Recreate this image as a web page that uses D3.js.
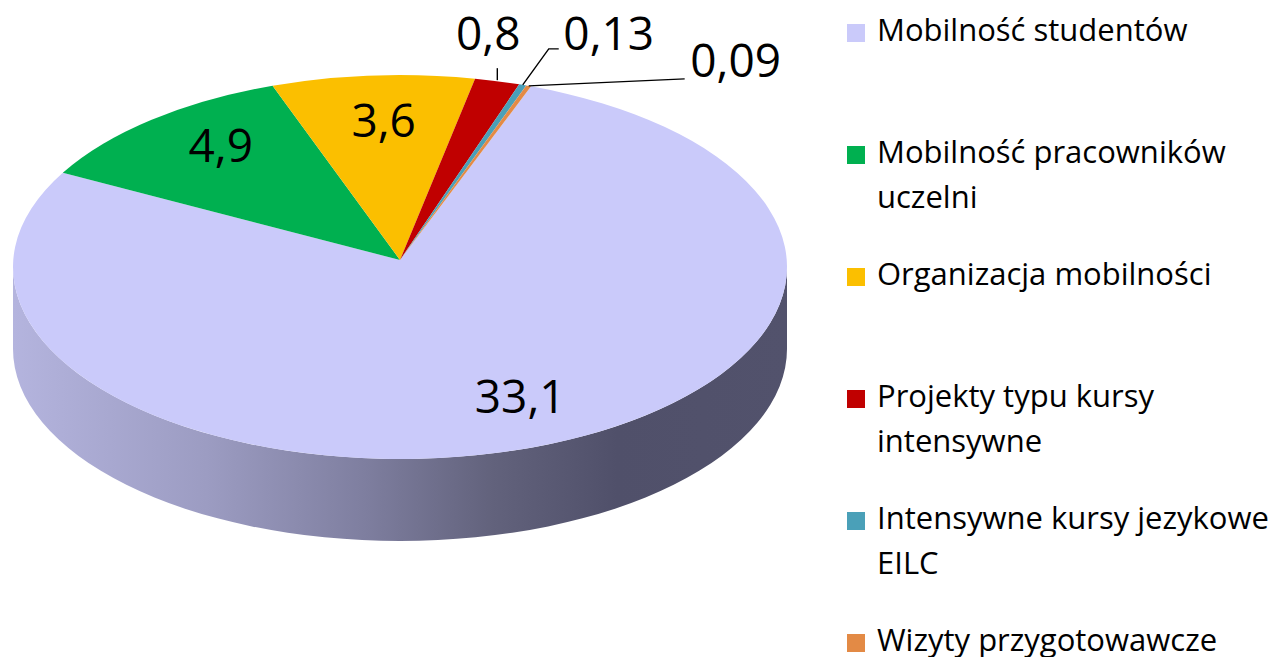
<!DOCTYPE html>
<html>
<head>
<meta charset="utf-8">
<script src="https://cdn.jsdelivr.net/npm/d3@7"></script>
<style>
  html, body { margin: 0; padding: 0; background: #ffffff; }
  svg { display: block; }
  text { font-family: "Open Sans", sans-serif; fill: #000; }
</style>
</head>
<body>
<svg id="chart" width="1272" height="657"></svg>
<script>
// ---- data ----
const categories = [
  "Mobilność studentów",
  "Mobilność pracowników uczelni",
  "Organizacja mobilności",
  "Projekty typu kursy intensywne",
  "Intensywne kursy jezykowe EILC",
  "Wizyty przygotowawcze"
];
const values = [33.1, 4.9, 3.6, 0.8, 0.13, 0.09];
const valueLabels = ["33,1", "4,9", "3,6", "0,8", "0,13", "0,09"];
const legendFirstLineWords = [2, 2, 2, 3, 3, 2];
const colors = ["#cacafa", "#00b050", "#fbbf00", "#c00000", "#4aa0b8", "#e38a45"];

// ---- layout ----
const W = 1272, H = 657;
const cx = 400, cy = 267, rx = 387, ry = 192, depth = 82;
const apex = { x: 400, y: 260 };
const firstSliceAngle = 19.8 * Math.PI / 180;

const svg = d3.select("#chart");

const pie = d3.pie().sort(null).value(d => d)
  .startAngle(firstSliceAngle).endAngle(firstSliceAngle + 2 * Math.PI);
const arcs = pie(values);

const rim = (a, dy = 0) => [cx + rx * Math.sin(a), cy - ry * Math.cos(a) + dy];

// side gradient
const defs = svg.append("defs");
const grad = defs.append("linearGradient").attr("id", "sideGrad")
  .attr("gradientUnits", "userSpaceOnUse")
  .attr("x1", cx - rx).attr("x2", cx + rx).attr("y1", 0).attr("y2", 0);
[[0, "#b4b4de"], [0.25, "#9c9cc2"], [0.45, "#7f7fa0"], [0.62, "#62627c"], [0.78, "#50506a"], [1, "#52526c"]]
  .forEach(([o, c]) => grad.append("stop").attr("offset", o).attr("stop-color", c));

// side (front half visible)
svg.append("path")
  .attr("d", `M${cx + rx},${cy} A${rx},${ry} 0 0 1 ${cx - rx},${cy} L${cx - rx},${cy + depth} A${rx},${ry} 0 0 0 ${cx + rx},${cy + depth} Z`)
  .attr("fill", "url(#sideGrad)");

// top face slices
svg.append("g").selectAll("path").data(arcs).join("path")
  .attr("d", d => {
    const p0 = rim(d.startAngle), p1 = rim(d.endAngle);
    const large = (d.endAngle - d.startAngle) > Math.PI ? 1 : 0;
    return `M${apex.x},${apex.y} L${p0[0]},${p0[1]} A${rx},${ry} 0 ${large} 1 ${p1[0]},${p1[1]} Z`;
  })
  .attr("fill", (d, i) => colors[i]);

// data labels
const insideNudge = [[19, 0], [7, -6], [4, 3]];
const outsideOffset = [null, null, null, [-9, -31], [86, -35], [207, -9]];
const labelFont = 46;

arcs.forEach((d, i) => {
  const mid = (d.startAngle + d.endAngle) / 2;
  if (i < 3) {
    const x = apex.x + 0.75 * rx * Math.sin(mid) + insideNudge[i][0];
    const y = apex.y - 0.75 * ry * Math.cos(mid) + insideNudge[i][1];
    svg.append("text").attr("x", x).attr("y", y)
      .attr("text-anchor", "middle").attr("dominant-baseline", "central")
      .attr("font-size", labelFont).text(valueLabels[i]);
  }
});

// outside labels with leader lines
const leader = svg.append("g").attr("stroke", "#000").attr("stroke-width", 1.4).attr("fill", "none");
// 0,8
{
  const d = arcs[3], mid = (d.startAngle + d.endAngle) / 2;
  const p = rim(mid);
  leader.append("path").attr("d", `M${p[0]},${p[1] - 1} L${p[0]},${p[1] - 13}`);
  svg.append("text").attr("x", p[0] + outsideOffset[3][0]).attr("y", p[1] + outsideOffset[3][1])
    .attr("text-anchor", "middle").attr("font-size", labelFont).text(valueLabels[3]);
}
// 0,13
{
  const d = arcs[4], mid = (d.startAngle + d.endAngle) / 2;
  const p = rim(mid);
  const lx = p[0] + 26, ly = p[1] - 36;
  leader.append("path").attr("d", `M${p[0]},${p[1]} L${lx},${ly} L${lx + 10},${ly}`);
  svg.append("text").attr("x", p[0] + outsideOffset[4][0]).attr("y", p[1] + outsideOffset[4][1])
    .attr("text-anchor", "middle").attr("font-size", labelFont).text(valueLabels[4]);
}
// 0,09
{
  const d = arcs[5], mid = (d.startAngle + d.endAngle) / 2;
  const p = rim(mid);
  leader.append("path").attr("d", `M${p[0]},${p[1]} L${p[0] + 156},${p[1] - 7}`);
  svg.append("text").attr("x", p[0] + outsideOffset[5][0]).attr("y", p[1] + outsideOffset[5][1])
    .attr("text-anchor", "middle").attr("font-size", labelFont).text(valueLabels[5]);
}

// legend
const legendX = 847, legendTextX = 877, legendTop = 41, legendStep = 122, lineH = 45, mk = 18;
const legend = svg.append("g");
categories.forEach((c, i) => {
  const base = legendTop + i * legendStep;
  const words = c.split(" ");
  const lines = [words.slice(0, legendFirstLineWords[i]).join(" "), words.slice(legendFirstLineWords[i]).join(" ")].filter(s => s);
  legend.append("rect").attr("x", legendX).attr("y", base - 17).attr("width", mk).attr("height", mk)
    .attr("fill", colors[i]);
  lines.forEach((ln, j) => {
    legend.append("text").attr("x", legendTextX).attr("y", base + j * lineH)
      .attr("font-size", 31).attr("fill", "#1a1a1a").text(ln);
  });
});
</script>
</body>
</html>
